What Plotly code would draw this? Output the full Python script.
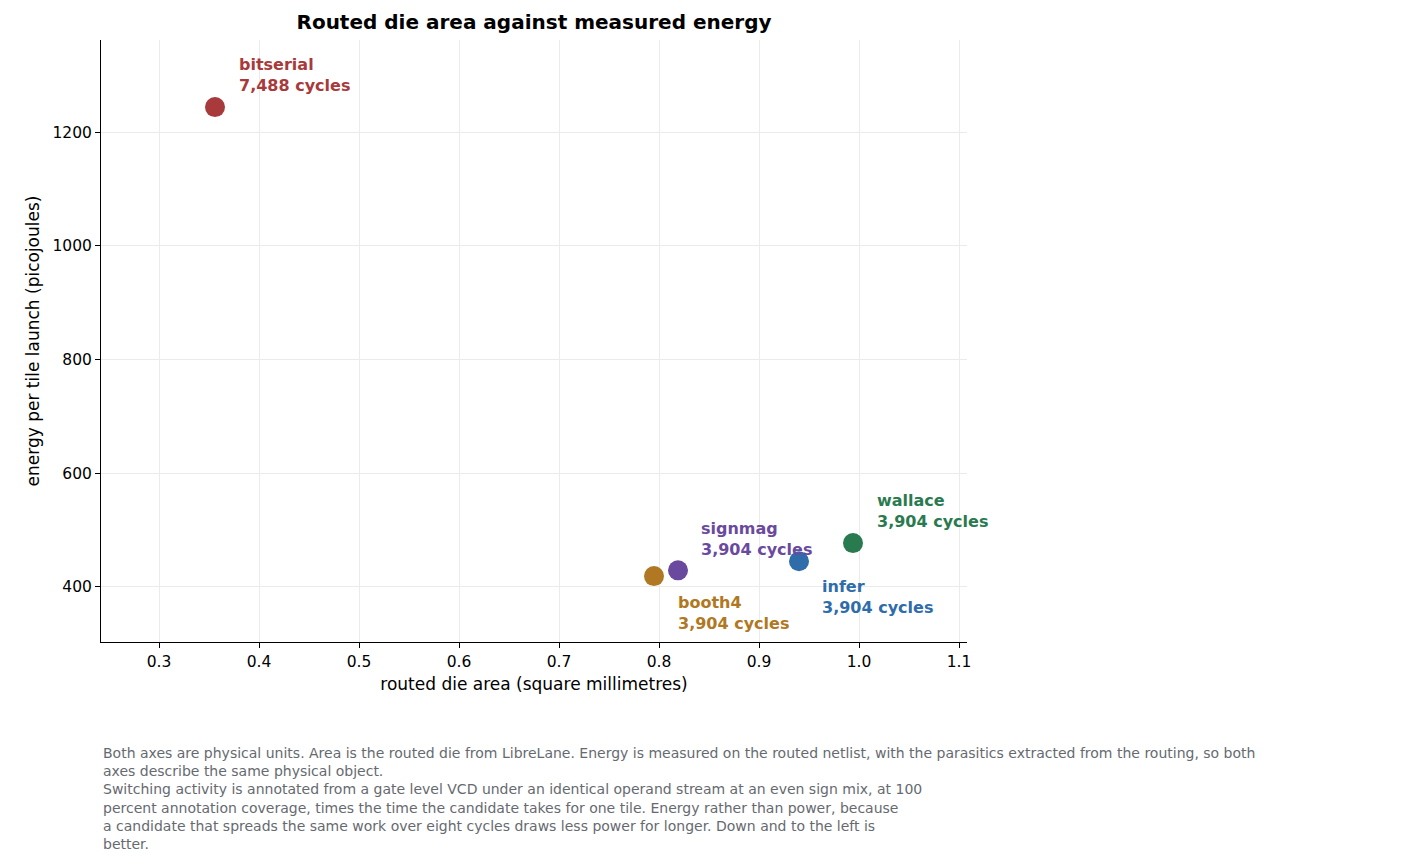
import plotly.graph_objects as go

names = ["bitserial", "booth4", "signmag", "infer", "wallace"]
area = [0.356, 0.795, 0.819, 0.940, 0.994]
energy = [1244, 419, 429, 445, 477]
cycles = ["7,488", "3,904", "3,904", "3,904", "3,904"]
colors = ["#a83a3c", "#b07822", "#6a4a9e", "#2f6caa", "#2a7a50"]
shifts = [(22, 32), (22, -37), (21, 31), (21, -36), (22, 32)]

fig = go.Figure()
fig.add_trace(go.Scatter(x=area, y=energy, mode="markers",
                         marker=dict(size=20, color=colors), showlegend=False, hoverinfo="skip"))
for n, a, e, c, col, (dx, dy) in zip(names, area, energy, cycles, colors, shifts):
    fig.add_annotation(x=a, y=e, text=f"<b>{n}<br>{c} cycles</b>", showarrow=False,
                       xanchor="left", yanchor="middle", align="left", xshift=dx, yshift=dy,
                       font=dict(size=16, color=col))

foot = ("Both axes are physical units. Area is the routed die from LibreLane. Energy is measured on the routed netlist, with the parasitics extracted from the routing, so both<br>"
        "axes describe the same physical object.<br>"
        "Switching activity is annotated from a gate level VCD under an identical operand stream at an even sign mix, at 100<br>"
        "percent annotation coverage, times the time the candidate takes for one tile. Energy rather than power, because<br>"
        "a candidate that spreads the same work over eight cycles draws less power for longer. Down and to the left is<br>"
        "better.")
fig.add_annotation(xref="paper", yref="paper", x=0, y=-0.168, xanchor="left", yanchor="top",
                   align="left", showarrow=False, text=foot, font=dict(size=14, color="#666a70"))

axis = dict(showline=True, linecolor="black", ticks="outside", tickcolor="black",
            gridcolor="#ebebeb", zeroline=False, tickfont=dict(size=15.5), mirror=False)
fig.update_layout(
    width=1422, height=868, paper_bgcolor="white", plot_bgcolor="white",
    margin=dict(l=93, r=463, t=32, b=234),
    font=dict(family="DejaVu Sans", color="black"),
    title=dict(text="<b>Routed die area against measured energy</b>", x=0.5, xref="paper",
               xanchor="center", y=0.984, yanchor="middle", font=dict(size=20)),
    xaxis=dict(axis, range=[0.242, 1.108], dtick=0.1, tickformat=".1f",
               title=dict(text="routed die area (square millimetres)", font=dict(size=17), standoff=8)),
    yaxis=dict(axis, range=[303, 1362], dtick=200,
               title=dict(text="energy per tile launch (picojoules)", font=dict(size=17), standoff=8)),
)
fig.write_html("out.html")
